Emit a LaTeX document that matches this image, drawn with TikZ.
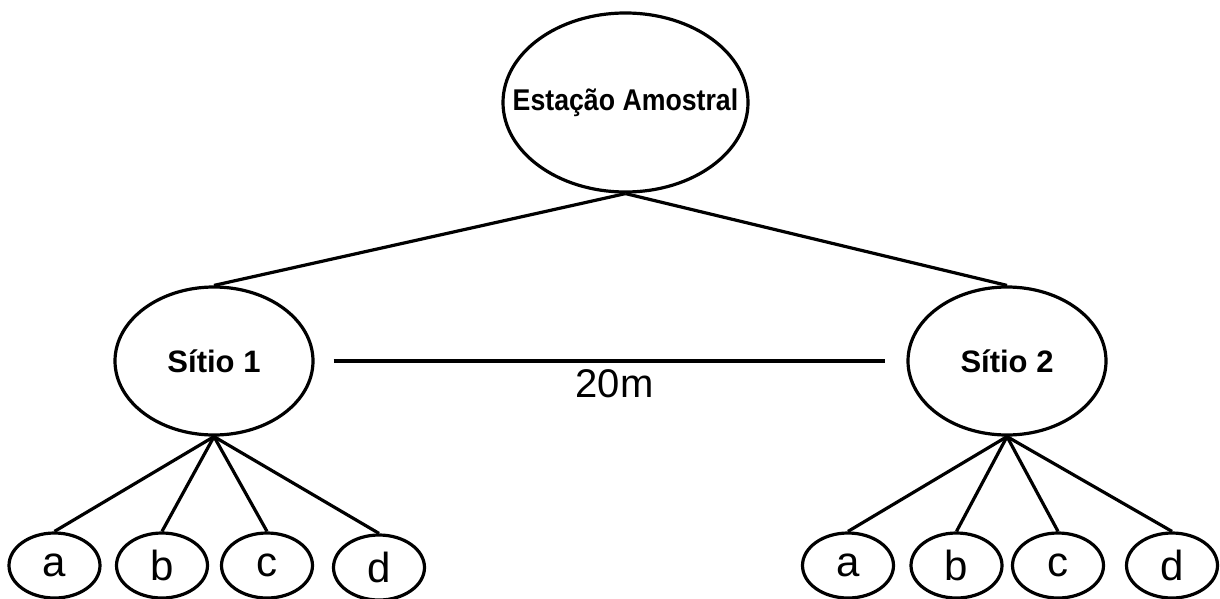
\documentclass[tikz,border=0pt]{standalone}
\usepackage{graphicx}
\usepackage{fontspec}
\setmainfont{Liberation Sans}
\usetikzlibrary{shapes.geometric}

\tikzset{
  oval/.style={ellipse, draw, line width=3.2pt, inner sep=0pt},
  bigoval/.style={oval, minimum width=245pt, minimum height=179pt},
  siteoval/.style={oval, minimum width=198pt, minimum height=148pt},
  leafoval/.style={oval, minimum width=91pt, minimum height=65pt},
  link/.style={line width=3.2pt},
  boldlabel/.style={font=\fontsize{30}{32}\selectfont\bfseries},
  sitelabel/.style={font=\fontsize{31}{34}\selectfont\bfseries},
  leaflabel/.style={font=\fontsize{42}{44}\selectfont},
}

\begin{document}
\begin{tikzpicture}[x=1pt, y=-1pt]
  \useasboundingbox (0,0) rectangle (1220,599);

  % root
  \node[bigoval, boldlabel] (root) at (625.5,102.5) {\makebox[0pt]{\scalebox{0.89}[1]{Estação Amostral}}};

  % sites
  \node[siteoval, sitelabel] (s1) at (214,361) {\makebox[0pt]{Sítio 1}};
  \node[siteoval, sitelabel] (s2) at (1007,361) {\makebox[0pt]{Sítio 2}};

  % sub-samples of site 1
  \node[leafoval, leaflabel] (s1a) at (54.5,565.5) {\makebox[0pt]{a}};
  \node[leafoval, leaflabel] (s1b) at (162,565.5) {\makebox[0pt]{b}};
  \node[leafoval, leaflabel] (s1c) at (267,565.5) {\makebox[0pt]{c}};
  \node[leafoval, leaflabel] (s1d) at (379,567.5) {\makebox[0pt]{d}};

  % sub-samples of site 2
  \node[leafoval, leaflabel] (s2a) at (848,565.5) {\makebox[0pt]{a}};
  \node[leafoval, leaflabel] (s2b) at (956.5,565.5) {\makebox[0pt]{b}};
  \node[leafoval, leaflabel] (s2c) at (1058,565.5) {\makebox[0pt]{c}};
  \node[leafoval, leaflabel] (s2d) at (1172,565.5) {\makebox[0pt]{d}};

  % tree links
  \draw[link] (root.south) -- (s1.north);
  \draw[link] (root.south) -- (s2.north);
  \foreach \k in {a,b,c,d} {
    \draw[link] (s1.south) -- (s1\k.north);
    \draw[link] (s2.south) -- (s2\k.north);
  }

  % distance between sites
  \draw[link] ([xshift=19pt]s1.east) -- node[below=4pt, xshift=5pt, font=\fontsize{40}{42}\selectfont] (dist) {20m} ([xshift=-21pt]s2.west);
\end{tikzpicture}
\end{document}
